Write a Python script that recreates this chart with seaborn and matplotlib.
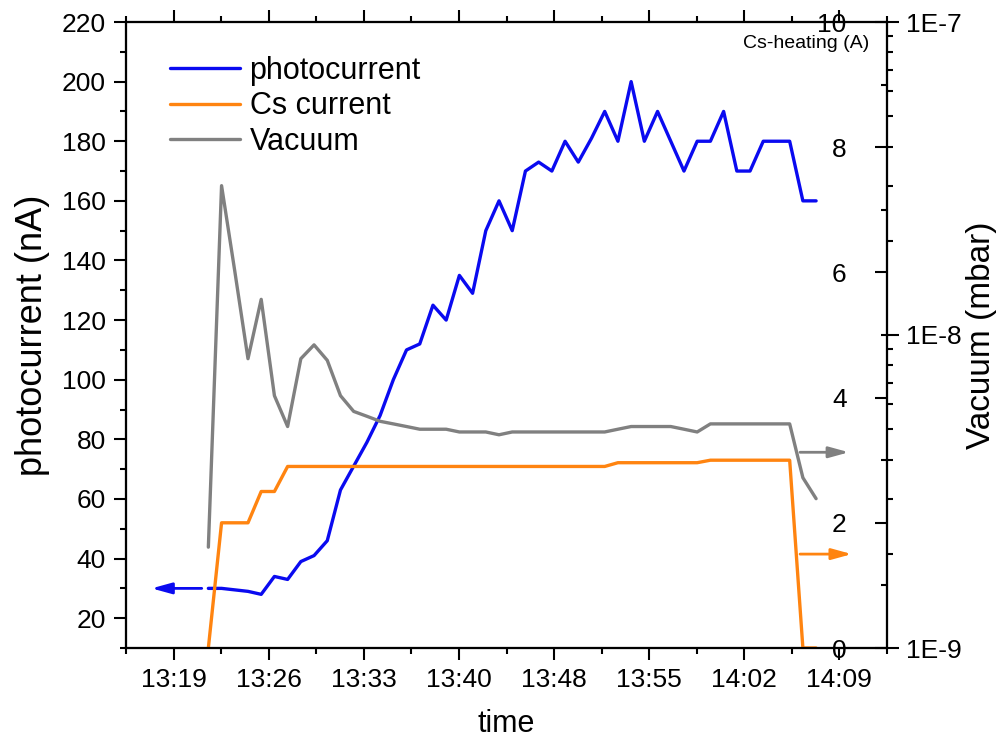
import numpy as np
import pandas as pd
import matplotlib
matplotlib.use("Agg")
import matplotlib.pyplot as plt
import seaborn as sns
from matplotlib.ticker import FixedLocator, FuncFormatter, LogLocator, NullFormatter, MultipleLocator

# ---------------- data ----------------
times = ["13:21:50", "13:22:50", "13:23:50", "13:24:50", "13:25:50", "13:26:50",
         "13:27:50", "13:28:50", "13:29:50", "13:30:50", "13:31:50", "13:32:50",
         "13:33:50", "13:34:50", "13:35:50", "13:36:50", "13:37:50", "13:38:50",
         "13:39:50", "13:40:50", "13:41:50", "13:42:50", "13:43:50", "13:44:50",
         "13:45:50", "13:46:50", "13:47:50", "13:48:50", "13:49:50", "13:50:50",
         "13:51:50", "13:52:50", "13:53:50", "13:54:50", "13:55:50", "13:56:50",
         "13:57:50", "13:58:50", "13:59:50", "14:00:50", "14:01:50", "14:02:50",
         "14:03:50", "14:04:50", "14:05:50", "14:06:50", "14:07:50"]

photocurrent = [30, 30, 29.5, 29, 28, 34, 33, 39, 41, 46, 63, 71, 79, 88, 100,
                110, 112, 125, 120, 135, 129, 150, 160, 150, 170, 173, 170, 180,
                173, 181, 190, 180, 200, 180, 190, 180, 170, 180, 180, 190, 170,
                170, 180, 180, 180, 160, 160]

cs_current = [0, 2.0, 2.0, 2.0, 2.5, 2.5,
              2.9, 2.9, 2.9, 2.9, 2.9, 2.9, 2.9, 2.9, 2.9, 2.9, 2.9, 2.9, 2.9,
              2.9, 2.9, 2.9, 2.9, 2.9, 2.9, 2.9, 2.9, 2.9, 2.9, 2.9, 2.9,
              2.96, 2.96, 2.96, 2.96, 2.96, 2.96, 2.96,
              3.0, 3.0, 3.0, 3.0, 3.0, 3.0, 3.0,
              0, 0]

vacuum = [2.1e-9, 3.0e-8, 1.6e-8, 8.4e-9, 1.3e-8, 6.4e-9, 5.1e-9, 8.4e-9, 9.3e-9,
          8.3e-9, 6.4e-9, 5.7e-9, 5.5e-9, 5.3e-9, 5.2e-9, 5.1e-9, 5.0e-9, 5.0e-9,
          5.0e-9, 4.9e-9, 4.9e-9, 4.9e-9, 4.8e-9, 4.9e-9, 4.9e-9, 4.9e-9, 4.9e-9,
          4.9e-9, 4.9e-9, 4.9e-9, 4.9e-9, 5.0e-9, 5.1e-9, 5.1e-9, 5.1e-9, 5.1e-9,
          5.0e-9, 4.9e-9, 5.2e-9, 5.2e-9, 5.2e-9, 5.2e-9, 5.2e-9, 5.2e-9, 5.2e-9,
          3.5e-9, 3.0e-9]

xtick_labels = ["13:19", "13:26", "13:33", "13:40", "13:48", "13:55", "14:02", "14:09"]
xtick_days = [0.555, 0.560, 0.565, 0.570, 0.575, 0.580, 0.585, 0.590]
xminor_days = [0.5525, 0.5575, 0.5625, 0.5675, 0.5725, 0.5775, 0.5825, 0.5875, 0.5925]
x_limits_days = [0.5525, 0.5925]

# arrows marking which axis each curve belongs to
arrow_photo = {"y": 30, "x0": "13:21:20", "x1": "13:17:32"}
arrow_cs = {"y": 1.5, "x0": "14:06:37", "x1": "14:10:32"}
arrow_vac = {"y": 4.22e-9, "x0": "14:06:37", "x1": "14:10:19"}

BLUE = "#0a0af0"
ORANGE = "#ff8410"
GREY = "#808080"


def to_min(s):
    parts = [int(p) for p in s.split(":")]
    return parts[0] * 60 + parts[1] + (parts[2] / 60.0 if len(parts) > 2 else 0)


df = pd.DataFrame({
    "t": [to_min(s) for s in times],
    "photocurrent": photocurrent,
    "cs": cs_current,
    "vac": vacuum,
})

# ---------------- style ----------------
sns.set_theme(style="ticks")
plt.rcParams["font.family"] = ["Liberation Sans", "DejaVu Sans"]
plt.rcParams["axes.linewidth"] = 1.5
for k in ("text.color", "axes.labelcolor", "xtick.color", "ytick.color", "axes.edgecolor"):
    plt.rcParams[k] = "black"

fig = plt.figure(figsize=(10.01, 7.41), dpi=100)
ax = fig.add_axes([126 / 1001, 1 - 648 / 741, 761 / 1001, 626 / 741])
ax_cs = ax.twinx()
ax_v = ax.twinx()
ax_v.set_yscale("log")

sns.lineplot(data=df, x="t", y="photocurrent", ax=ax, color=BLUE, linewidth=2.4,
             sort=False, estimator=None, legend=False)
sns.lineplot(data=df, x="t", y="cs", ax=ax_cs, color=ORANGE, linewidth=2.4,
             sort=False, estimator=None, legend=False)
sns.lineplot(data=df, x="t", y="vac", ax=ax_v, color=GREY, linewidth=2.4,
             sort=False, estimator=None, legend=False)

# ---------------- axes ----------------
xlim = [d * 1440 for d in x_limits_days]
for a in (ax, ax_cs, ax_v):
    a.set_xlim(*xlim)
    for sp in a.spines.values():
        sp.set_linewidth(1.5)
        sp.set_color("black")

ax.set_ylim(10, 220)
ax.yaxis.set_major_locator(MultipleLocator(20))
ax.yaxis.set_minor_locator(MultipleLocator(10))
ax.xaxis.set_major_locator(FixedLocator([d * 1440 for d in xtick_days]))
ax.xaxis.set_minor_locator(FixedLocator([d * 1440 for d in xminor_days]))
ax.set_xticklabels(xtick_labels)
ax.tick_params(axis="both", which="major", direction="out", length=8.6, width=1.5,
               labelsize=19, pad=6, colors="black")
ax.tick_params(axis="both", which="minor", direction="out", length=4.5, width=1.5)
ax.tick_params(axis="x", top=True, which="both")
ax.tick_params(axis="y", right=False, which="both")
ax.set_xlabel("time", fontsize=22, labelpad=12)
ax.set_ylabel("photocurrent (nA)", fontsize=26, labelpad=8)

ax_cs.set_ylim(0, 10)
ax_cs.yaxis.set_major_locator(FixedLocator([0, 2, 4, 6, 8, 10]))
ax_cs.yaxis.set_minor_locator(FixedLocator([1, 3, 5, 7, 9]))
ax_cs.tick_params(axis="y", which="major", direction="in", length=8.6, width=1.5,
                  labelsize=19, pad=-29, colors="black")
ax_cs.tick_params(axis="y", which="minor", direction="in", length=4.5, width=1.5)
plt.setp(ax_cs.get_yticklabels(), ha="right")
ax_cs.set_ylabel("")

ax_v.set_ylim(1e-9, 1e-7)
ax_v.yaxis.set_major_locator(FixedLocator([1e-9, 1e-8, 1e-7]))
ax_v.yaxis.set_minor_locator(LogLocator(base=10, subs=np.arange(2, 10)))
ax_v.yaxis.set_minor_formatter(NullFormatter())
ax_v.yaxis.set_major_formatter(FuncFormatter(lambda v, p: "1E%d" % int(round(np.log10(v)))))
ax_v.tick_params(axis="y", which="major", direction="out", length=8.6, width=1.5,
                 labelsize=19, pad=5, colors="black")
ax_v.tick_params(axis="y", which="minor", direction="out", length=4.5, width=1.5)
ax_v.set_ylabel("Vacuum (mbar)", fontsize=24, labelpad=3)

ax.text(0.977, 0.966, "Cs-heating (A)", transform=ax.transAxes, ha="right",
        va="center", fontsize=14)

# ---------------- arrows ----------------
def draw_arrow(a, spec, color):
    a.annotate("", xy=(to_min(spec["x1"]), spec["y"]),
               xytext=(to_min(spec["x0"]), spec["y"]),
               arrowprops=dict(arrowstyle="-|>,head_length=1.2,head_width=0.33",
                               mutation_scale=10, color=color, lw=2,
                               shrinkA=0, shrinkB=0))

draw_arrow(ax, arrow_photo, BLUE)
draw_arrow(ax_cs, arrow_cs, ORANGE)
draw_arrow(ax_v, arrow_vac, GREY)

# ---------------- legend ----------------
handles = [ax.get_lines()[0], ax_cs.get_lines()[0], ax_v.get_lines()[0]]
ax_v.legend(handles, ["photocurrent", "Cs current", "Vacuum"], loc="upper left",
            bbox_to_anchor=(0.058, 0.946), frameon=False, fontsize=22,
            handlelength=2.3, handletextpad=0.3, labelspacing=0.18,
            borderpad=0, borderaxespad=0)

fig.savefig("out.png", dpi=100)
